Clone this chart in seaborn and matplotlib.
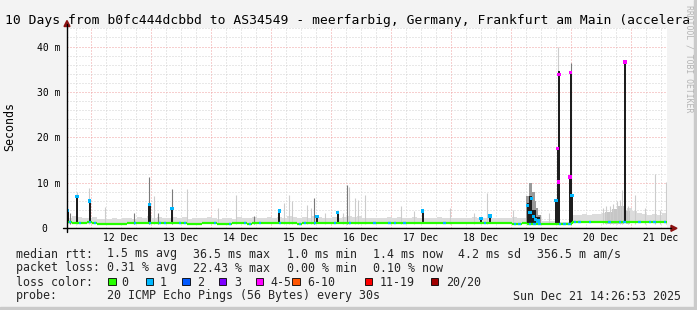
import matplotlib
matplotlib.use("Agg")
import matplotlib.pyplot as plt
import numpy as np
import pandas as pd
import seaborn as sns
from matplotlib.patches import Rectangle, Polygon
from matplotlib.lines import Line2D

# ------------------------------------------------------------------ data
start_day = 11 + (14 + 26 / 60 + 53 / 3600) / 24   # Dec 11 14:26:53
end_day = start_day + 10
bin_days = 1 / 12                                   # 2 h bins

median_ms = [1.3, 1.2, 1.2, 1.2, 1.3, 1.2,
             0.95, 0.95, 0.9, 0.95, 0.95, 0.95,
             1.2, 1.25, 1.2, 1.2, 1.2, 1.25, 1.2, 1.2, 1.2, 1.2, 1.25, 1.2,
             0.95, 0.95, 0.95,
             1.2, 1.2, 1.1,
             0.95, 0.95, 1.0,
             1.2, 1.2, 1.1, 1.0, 1.2, 1.1, 1.2, 1.2, 1.2, 1.1, 1.2, 1.2, 1.2, 1.0, 1.1, 1.2, 1.1, 1.2, 1.2, 1.2,
             1.1, 1.2, 1.2, 1.1, 1.2, 1.2, 1.2, 1.2, 1.1, 1.2, 1.2, 1.1, 1.1, 1.2, 1.1, 1.2, 1.2, 1.2, 1.2, 1.2,
             1.2, 1.2, 1.1, 1.2, 1.2, 1.2, 1.2, 1.2, 1.2, 1.2, 1.1, 1.2, 1.2, 1.2, 1.2, 1.2, 1.0, 1.0, 1.1,
             1.0, 1.0, 1.0,
             0.95, 0.95, 0.95,
             1.05, 1.05, 1.05,
             1.4, 1.45, 1.45, 1.4, 1.45, 1.45, 1.45, 1.4, 1.45, 1.4, 1.45, 1.45, 1.45, 1.4, 1.45, 1.4, 1.45, 1.45, 1.4]

loss_level = [1, 0, 1, 0, 1, 1, 0, 0, 0, 0, 0, 0, 0, 1, 0, 0, 1, 0, 1, 1,
              0, 0, 1, 1, 0, 0, 0, 0, 0, 1, 0, 0, 1, 0, 0, 1, 1, 0, 1, 0,
              0, 0, 1, 0, 0, 0, 1, 1, 0, 1, 0, 0, 0, 1, 0, 0, 1, 0, 0, 0,
              0, 1, 0, 0, 1, 1, 0, 1, 0, 0, 0, 0, 0, 0, 0, 1, 0, 0, 0, 0,
              0, 0, 0, 1, 0, 0, 0, 0, 0, 1, 1, 0, 1, 1, 1, 0, 0, 0, 1, 1,
              1, 1, 1, 0, 1, 0, 0, 0, 1, 0, 1, 1, 0, 0, 1, 0, 1, 1, 0, 1]

smoke_hi_ms = [2.2, 2.6, 2.4, 2.3, 2.2, 2.5, 2.0, 2.1, 2.0, 2.3, 2.0, 2.2, 2.3, 2.1, 2.4, 2.2, 2.6, 2.3, 2.4, 2.2,
               2.3, 2.5, 2.2, 2.4, 2.1, 2.2, 2.3, 2.2, 2.4, 2.3, 2.1, 2.2, 2.3, 2.1, 2.4, 2.2, 2.2, 2.5, 2.3, 2.2,
               2.4, 2.3, 2.5, 2.2, 2.6, 2.4, 2.3, 2.5, 2.3, 2.6, 2.4, 2.3, 2.2, 2.4, 2.3, 2.5, 2.7, 2.4, 2.6, 2.3,
               2.3, 2.2, 2.2, 2.3, 2.4, 2.2, 2.5, 2.3, 2.2, 2.4, 2.3, 2.2, 2.3, 2.2, 2.4, 2.3, 2.2, 2.3, 2.2, 2.3,
               2.2, 2.4, 2.3, 2.2, 2.5, 2.3, 2.2, 2.3, 2.2, 2.4, 2.2, 2.3, 2.5, 2.5, 2.4, 1.6, 1.7, 1.6, 1.3, 1.3,
               1.3, 3.0, 2.9, 3.1, 3.0, 3.2, 3.1, 3.4, 3.3, 3.8, 4.2, 4.0, 4.5, 3.9, 3.4, 3.2, 3.0, 3.1, 2.9, 3.4]

light_spike_day = [11.769, 11.964, 12.235, 13.057, 13.607, 14.124, 14.419, 15.219, 15.302, 15.357,
                   15.607, 15.664, 15.902, 16.197, 16.302, 16.402, 16.457, 16.569, 17.164, 17.390,
                   17.985, 18.390, 18.607, 19.030, 19.640, 19.790, 20.535, 20.585, 20.652, 20.702,
                   20.769, 20.819, 20.847, 20.952, 21.069, 21.235, 21.402, 21.485, 21.580]
light_spike_ms = [8.0, 8.9, 4.7, 7.0, 8.6, 4.4, 7.3, 5.5, 7.3, 5.9,
                  5.1, 4.4, 3.4, 3.4, 9.0, 6.6, 6.2, 7.3, 4.9, 3.8,
                  4.4, 3.3, 7.8, 4.0, 3.3, 40.0, 4.5, 5.0, 5.0, 5.3,
                  6.0, 6.2, 8.4, 5.0, 7.3, 4.4, 12.0, 4.0, 10.2]

mid_spike_day = [11.644, 12.719, 12.977, 13.124, 13.357, 14.724, 15.727, 16.269, 20.002]
mid_spike_ms = [3.3, 3.4, 11.3, 3.4, 8.6, 2.7, 6.6, 9.5, 36.3]

cluster_start = [19.260, 19.294, 19.360, 19.394, 19.427, 19.460]
cluster_end = [19.294, 19.360, 19.394, 19.427, 19.460, 19.494]
cluster_top = [7.0, 9.9, 8.0, 6.0, 4.5, 3.0]

haze_start = [20.569, 20.686, 20.786, 20.919]
haze_end = [20.686, 20.786, 20.886, 20.986]
haze_top = [3.6, 4.2, 4.8, 3.8]

dark_start = [11.602, 11.752, 11.964, 12.952, 13.335, 15.119, 15.752, 16.097, 17.514, 18.485, 18.635,
              19.264, 19.294, 19.360, 19.427, 19.740, 19.764, 19.780, 19.977, 19.990, 20.019, 20.885]
dark_end = [11.630, 11.785, 11.997, 12.994, 13.369, 15.152, 15.785, 16.130, 17.547, 18.513, 18.664,
            19.294, 19.360, 19.427, 19.485, 19.764, 19.780, 19.818, 19.990, 20.019, 20.035, 20.924]
dark_top = [4.0, 7.0, 6.0, 5.3, 4.4, 3.8, 2.5, 3.5, 3.8, 2.2, 2.7,
            5.5, 7.0, 4.0, 2.5, 6.5, 18.0, 34.6, 11.3, 34.4, 7.2, 36.8]

mark_day = [11.610, 11.769, 11.980, 12.974, 13.352, 15.140, 15.769, 16.113, 17.530, 18.502, 18.652,
            19.277, 19.319, 19.344, 19.377, 19.410, 19.452,
            19.752, 19.780, 19.790, 19.802, 19.985, 19.997, 20.019, 20.902]
mark_ms = [4.0, 7.0, 6.0, 5.3, 4.4, 3.8, 2.5, 3.5, 3.8, 2.2, 2.7,
           5.0, 3.5, 6.5, 2.5, 2.0, 1.6,
           6.2, 17.6, 10.2, 33.9, 11.3, 34.2, 7.2, 36.6]
mark_loss = [1, 1, 1, 1, 1, 1, 1, 1, 1, 1, 1,
             1, 1, 1, 1, 1, 1,
             1, 4, 4, 4, 4, 4, 1, 4]

day_label_pos = [12.5, 13.5, 14.5, 15.5, 16.5, 17.5, 18.5, 19.5, 20.5, 21.5]
day_labels = ["12 Dec", "13 Dec", "14 Dec", "15 Dec", "16 Dec",
              "17 Dec", "18 Dec", "19 Dec", "20 Dec", "21 Dec"]
ytick_vals = [0, 10, 20, 30, 40]
ytick_labels = ["0  ", "10 m", "20 m", "30 m", "40 m"]

loss_names = ["0", "1", "2", "3", "4-5", "6-10", "11-19", "20/20"]
loss_colors = ["#26ff00", "#00b8ff", "#0059ff", "#7e00ff", "#ff00ff", "#ff5500", "#ff0000", "#a00000"]

title = "10 Days from b0fc444dcbbd to AS34549 - meerfarbig, Germany, Frankfurt am Main (accelera"
rtt_items = ["median rtt:", "1.5 ms avg", "36.5 ms max", "1.0 ms min", "1.4 ms now", "4.2 ms sd", "356.5 m am/s"]
loss_items = ["packet loss:", "0.31 % avg", "22.43 % max", "0.00 % min", "0.10 % now"]
probe_items = ["probe:", "20 ICMP Echo Pings (56 Bytes) every 30s"]
stamp = "Sun Dec 21 14:26:53 2025"

# ------------------------------------------------------------------ style
W, H = 697, 310
sns.set_theme(style="white")
plt.rcParams["font.family"] = ["DejaVu Sans Mono", "DejaVu Sans"]

def fx(px):
    return px / W

def fy(py):
    return 1 - py / H

fig = plt.figure(figsize=(W / 100, H / 100), dpi=100, facecolor="#f3f3f3")
ax_left, ax_right, ax_top, ax_bot = 67, 667, 27.5, 228.3
ax = fig.add_axes([fx(ax_left), fy(ax_bot), (ax_right - ax_left) / W, (ax_bot - ax_top) / H])
ax.set_facecolor("white")
for s in ax.spines.values():
    s.set_visible(False)
ax.set_xlim(start_day, end_day)
ax.set_ylim(0, 44.2)

# grid
minor_c, major_c = "#d2d2d2", "#f0a0a0"
dot = (0, (1, 2))
for d in np.arange(np.ceil(start_day * 4) / 4, end_day, 0.25):
    is_major = abs(d - round(d)) < 1e-6
    ax.axvline(d, color=major_c if is_major else minor_c, lw=0.72, ls=dot, zorder=0.5)
for v in np.arange(2, 44.2, 2):
    ax.axhline(v, color=major_c if v % 10 == 0 else minor_c, lw=0.72, ls=dot, zorder=0.5)

# smoke
n = len(median_ms)
bin_start = start_day + np.arange(n) * bin_days
med = np.array(median_ms)
lo = med - 0.25
hi = np.array(smoke_hi_ms)
ax.bar(bin_start, hi - lo, bottom=lo, width=bin_days, align="edge", color="#dcdcdc", linewidth=0, zorder=1)
hs, he = np.array(haze_start), np.array(haze_end)
ax.bar(hs, np.array(haze_top) - 1.0, bottom=1.0, width=he - hs, align="edge", color="#c6c6c6", linewidth=0, zorder=1.1)
ax.vlines(light_spike_day, 1.0, light_spike_ms, color="#cccccc", lw=0.8, zorder=1.2)
ax.vlines(mid_spike_day, 1.0, mid_spike_ms, color="#7a7a7a", lw=0.8, zorder=1.4)
cs, ce = np.array(cluster_start), np.array(cluster_end)
ax.bar(cs, np.array(cluster_top) - 1.0, bottom=1.0, width=ce - cs, align="edge", color="#9a9a9a", linewidth=0, zorder=1.5)
ks, ke = np.array(dark_start), np.array(dark_end)
ax.bar(ks, np.array(dark_top) - 1.1, bottom=1.1, width=ke - ks, align="edge", color="#1e1e1e", linewidth=0, zorder=2)

# median line coloured by loss (short loss dashes inside each 2 h bin)
green = loss_colors[0]
ax.hlines(med, bin_start, bin_start + bin_days, colors=green, lw=1.6, zorder=3)
ax.vlines(bin_start[1:], med[:-1], med[1:], colors=green, lw=1.6, zorder=3)
lossy = np.array(loss_level) > 0
dash_cols = [loss_colors[l] for l in np.array(loss_level)[lossy]]
ax.hlines(med[lossy], bin_start[lossy] + bin_days * 0.3, bin_start[lossy] + bin_days * 0.75,
          colors=dash_cols, lw=1.6, zorder=3.2)

marks = pd.DataFrame({"day": mark_day, "ms": mark_ms,
                      "loss": [loss_names[l] for l in mark_loss]})
sns.scatterplot(data=marks, x="day", y="ms", hue="loss",
                palette={loss_names[i]: loss_colors[i] for i in range(len(loss_names))},
                marker="s", s=5, linewidth=0, legend=False, ax=ax, zorder=4)

# ticks
ax.set_xticks(day_label_pos)
ax.set_xticklabels(day_labels)
ax.tick_params(axis="x", length=0, pad=3.6, labelsize=7, colors="#000000")
ax.set_yticks(ytick_vals)
ax.set_yticklabels(ytick_labels)
ax.set_yticks(np.arange(2, 44, 2), minor=True)
ax.tick_params(axis="y", which="major", direction="inout", length=4, width=0.7, color="#c06060",
               pad=3.0, labelsize=7, labelcolor="#000000")
ax.tick_params(axis="y", which="minor", direction="inout", length=3, width=0.7, color="#a0a0a0")
ax.set_xlabel("")
ax.set_ylabel("")

# axes with arrows
fig.add_artist(Line2D([fx(67), fx(67)], [fy(232), fy(24)], color="black", lw=1.0))
fig.add_artist(Line2D([fx(63), fx(671)], [fy(ax_bot), fy(ax_bot)], color="black", lw=1.0))
arrow_c = "#8b1010"
fig.add_artist(Polygon([[fx(67), fy(20.5)], [fx(64), fy(26.5)], [fx(70), fy(26.5)]],
                       closed=True, color=arrow_c, transform=fig.transFigure))
fig.add_artist(Polygon([[fx(677), fy(ax_bot)], [fx(671), fy(ax_bot - 3)], [fx(671), fy(ax_bot + 3)]],
                       closed=True, color=arrow_c, transform=fig.transFigure))

# frame (darker right / bottom edges)
fig.add_artist(Rectangle((fx(694), 0), 1 - fx(694), 1, color="#cacaca", transform=fig.transFigure, zorder=0))
fig.add_artist(Rectangle((0, 0), 1, fy(307), color="#cacaca", transform=fig.transFigure, zorder=0))

# texts
fig.text(fx(5), fy(24), title, fontsize=9.4, va="baseline", ha="left", color="#000000")
fig.text(fx(10), fy(126.5), "Seconds", rotation=90, fontsize=8.4, va="center", ha="center", color="#000000")
fig.text(fx(688.5), fy(5), "RRDTOOL / TOBI OETIKER", rotation=270, fontsize=5.9,
         va="top", ha="center", color="#b4b4b4")

col_x = [16, 107.3, 192.7, 287.3, 372.7, 458.3, 537.3]
for i, t in enumerate(rtt_items):
    fig.text(fx(col_x[i]), fy(257.5), t, fontsize=8.4, va="baseline", ha="left")
for i, t in enumerate(loss_items):
    fig.text(fx(col_x[i]), fy(271.5), t, fontsize=8.4, va="baseline", ha="left")
fig.text(fx(16), fy(285.5), "loss color:", fontsize=8.4, va="baseline", ha="left")
box_x = [108.3, 145.7, 182.3, 219.0, 255.7, 292.3, 365.0, 431.0]
lab_x = [121.7, 159.3, 197.0, 234.3, 270.7, 307.3, 379.3, 445.7]
for i, name in enumerate(loss_names):
    fig.add_artist(Rectangle((fx(box_x[i]), fy(285.3)), 7.2 / W, 7.8 / H, facecolor=loss_colors[i],
                             edgecolor="#000000", lw=0.6, transform=fig.transFigure))
    fig.text(fx(lab_x[i]), fy(285.5), name, fontsize=8.4, va="baseline", ha="left")
fig.text(fx(16), fy(299.5), probe_items[0], fontsize=8.4, va="baseline", ha="left")
fig.text(fx(107.3), fy(299.5), probe_items[1], fontsize=8.4, va="baseline", ha="left")
fig.text(fx(513.3), fy(299.5), stamp, fontsize=8.4, va="baseline", ha="left")

fig.savefig("out.png", dpi=100, facecolor=fig.get_facecolor())
